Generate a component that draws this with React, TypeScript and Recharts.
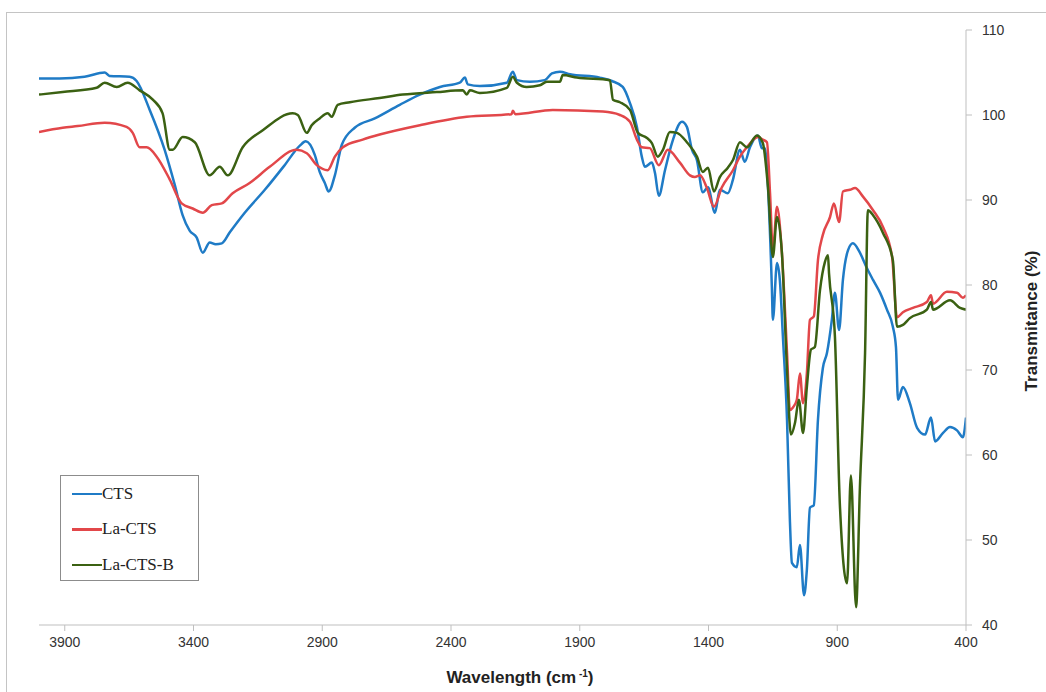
import { LineChart, Line, XAxis, YAxis, Legend } from "recharts";

// wavenumber (cm-1) / transmittance (%)
const CTS_WN = [
  4000, 3920, 3823, 3745, 3726, 3648, 3621, 3570, 3512, 3473, 3442, 3415, 3388, 3364, 3337, 3314,
  3290, 3259, 3201, 3123, 3046, 2987, 2964, 2929, 2910, 2890, 2875, 2851, 2824, 2774, 2696, 2599,
  2521, 2443, 2366, 2346, 2335, 2288, 2183, 2160, 2144, 2094, 2036, 2008, 1977, 1938, 1822, 1775,
  1733, 1705, 1678, 1659, 1647, 1620, 1608, 1593, 1569, 1542, 1503, 1484, 1464, 1445, 1422, 1402,
  1375, 1356, 1325, 1305, 1278, 1259, 1239, 1208, 1193, 1181, 1169, 1154, 1150, 1134, 1123, 1111,
  1095, 1084, 1076, 1057, 1045, 1029, 1018, 1006, 991, 975, 956, 940, 921, 909, 893, 878,
  858, 839, 812, 785, 761, 734, 707, 684, 672, 664, 645, 618, 590, 559, 536, 520,
  489, 462, 435, 412, 400,
];
const CTS_T = [
  104.3, 104.3, 104.5, 105.0, 104.6, 104.5, 104.0, 100.6, 95.9, 91.8, 88.2, 86.4, 85.6, 83.8, 85.0, 84.8,
  84.9, 86.2, 88.5, 91.2, 94.1, 96.4, 96.9, 95.3, 93.3, 92.0, 91.0, 92.9, 96.5, 98.5, 99.6, 101.2,
  102.4, 103.3, 103.8, 104.4, 103.6, 103.4, 103.8, 105.1, 104.1, 103.9, 104.1, 104.9, 105.1, 104.8, 104.4, 104.0,
  103.3, 101.4, 98.6, 95.1, 93.9, 94.4, 93.2, 90.5, 93.5, 96.7, 99.2, 98.6, 95.9, 94.7, 90.9, 91.5,
  88.5, 91.2, 90.8, 92.4, 95.9, 94.5, 96.2, 97.6, 96.1, 96.1, 91.5, 79.8, 75.9, 82.6, 80.6, 73.9,
  64.1, 52.4, 47.3, 46.8, 49.4, 43.5, 46.5, 53.8, 54.1, 64.1, 70.2, 72.0, 75.9, 79.1, 74.7, 80.6,
  84.1, 84.9, 83.8, 82.0, 80.6, 79.1, 77.1, 75.1, 72.7, 66.5, 68.0, 66.1, 63.2, 62.4, 64.4, 61.6,
  62.6, 63.3, 62.9, 62.1, 64.4,
];

const LA_CTS_WN = [
  4000, 3908, 3850, 3745, 3660, 3636, 3609, 3582, 3543, 3492, 3446, 3403, 3364, 3329, 3290, 3248,
  3182, 3104, 3000, 2960, 2921, 2879, 2851, 2820, 2743, 2677, 2521, 2339, 2165, 2160, 2150, 2005,
  1810, 1744, 1705, 1678, 1659, 1628, 1593, 1558, 1511, 1472, 1453, 1433, 1406, 1379, 1348, 1305,
  1278, 1251, 1208, 1189, 1173, 1161, 1150, 1134, 1115, 1095, 1084, 1072, 1057, 1045, 1033, 1018,
  1006, 991, 975, 956, 928, 913, 893, 878, 851, 831, 800, 761, 722, 687, 668, 645,
  606, 552, 536, 528, 474, 435, 412, 400,
];
const LA_CTS_T = [
  98.0, 98.5, 98.7, 99.1, 98.6, 97.9, 96.2, 96.2, 95.1, 92.4, 89.6, 89.0, 88.5, 89.4, 89.6, 90.8,
  92.0, 93.9, 95.9, 95.5, 94.1, 93.5, 95.1, 96.2, 97.1, 97.7, 98.8, 99.8, 100.1, 100.5, 100.1, 100.6,
  100.4, 100.0, 99.2, 97.1, 96.2, 96.1, 94.1, 95.9, 94.4, 92.9, 92.7, 92.9, 91.4, 89.2, 91.5, 93.5,
  95.1, 96.2, 97.4, 97.1, 96.8, 90.8, 84.1, 89.2, 83.8, 72.0, 65.3, 65.6, 66.5, 69.6, 66.1, 69.6,
  75.9, 76.3, 82.9, 85.9, 88.0, 89.6, 87.4, 91.0, 91.2, 91.4, 90.4, 88.8, 86.8, 83.3, 76.2, 76.8,
  77.3, 78.0, 78.8, 77.8, 79.2, 79.1, 78.5, 78.8,
];

const LA_CTS_B_WN = [
  4000, 3908, 3776, 3745, 3698, 3656, 3609, 3558, 3520, 3492, 3481, 3442, 3395, 3337, 3298, 3267,
  3209, 3131, 3015, 2995, 2960, 2941, 2910, 2879, 2863, 2840, 2793, 2677, 2587, 2455, 2354, 2339,
  2327, 2288, 2183, 2160, 2144, 2106, 2055, 2028, 1977, 1966, 1911, 1783, 1771, 1744, 1705, 1674,
  1639, 1620, 1597, 1577, 1550, 1523, 1484, 1445, 1422, 1402, 1379, 1356, 1325, 1305, 1278, 1251,
  1212, 1189, 1169, 1150, 1134, 1115, 1095, 1080, 1064, 1049, 1033, 1018, 1002, 987, 967, 948,
  936, 932, 909, 890, 862, 847, 827, 812, 792, 781, 761, 722, 684, 668, 645, 618,
  552, 536, 528, 462, 423, 400,
];
const LA_CTS_B_T = [
  102.4, 102.7, 103.2, 103.8, 103.3, 103.8, 102.9, 101.8, 100.2, 95.9, 95.9, 97.4, 96.8, 92.9, 93.9, 92.9,
  96.2, 98.2, 100.2, 100.0, 97.9, 98.8, 99.6, 100.2, 99.8, 101.2, 101.5, 102.0, 102.4, 102.7, 102.9, 102.4,
  102.9, 102.6, 103.2, 104.5, 103.8, 103.3, 103.5, 103.9, 103.9, 104.7, 104.4, 104.1, 101.8, 101.5, 100.6, 97.9,
  97.3, 96.7, 95.1, 95.9, 98.0, 97.9, 96.8, 95.1, 93.3, 93.8, 91.0, 92.7, 93.8, 94.7, 96.8, 96.2,
  97.6, 96.7, 91.5, 83.3, 88.0, 83.8, 70.0, 62.4, 63.8, 66.5, 62.6, 68.0, 72.4, 72.7, 79.4, 82.7,
  83.5, 81.4, 73.9, 54.3, 44.9, 57.6, 42.1, 56.2, 72.0, 88.8, 88.2, 86.1, 82.9, 75.1, 75.3, 76.1,
  77.1, 78.0, 77.1, 78.2, 77.3, 77.1,
];

const X_TICKS = [3900, 3400, 2900, 2400, 1900, 1400, 900, 400];
const Y_TICKS = [40, 50, 60, 70, 80, 90, 100, 110];

const toPoints = (wn: number[], t: number[]) => wn.map((w, i) => ({ wn: w, t: t[i] }));

const SERIES = [
  { name: "CTS", color: "#1f7bc6", data: toPoints(CTS_WN, CTS_T) },
  { name: "La-CTS", color: "#e2474a", data: toPoints(LA_CTS_WN, LA_CTS_T) },
  { name: "La-CTS-B", color: "#3b6112", data: toPoints(LA_CTS_B_WN, LA_CTS_B_T) },
];

function LegendBox() {
  return (
    <div
      style={{
        border: "1.5px solid #8c8c8c",
        width: 139,
        height: 106,
        boxSizing: "border-box",
        paddingLeft: 11,
        fontFamily: "'Liberation Serif', 'Times New Roman', serif",
        fontSize: 17,
        color: "#222",
        background: "#fff",
      }}
    >
      {SERIES.map((s) => (
        <div key={s.name} style={{ display: "flex", alignItems: "center", height: 35.5 }}>
          <span style={{ width: 30, height: 2.5, background: s.color, display: "inline-block" }} />
          <span>{s.name}</span>
        </div>
      ))}
    </div>
  );
}

function XTitle() {
  return (
    <text x={520} y={683} textAnchor="middle" fill="#222" fontSize={17} fontWeight="bold"
      fontFamily="'Liberation Sans Narrow', 'Liberation Sans', sans-serif">
      Wavelength (cm<tspan dy={-6} fontSize={10}> -1</tspan><tspan dy={6}>)</tspan>
    </text>
  );
}

function YTitle() {
  return (
    <text x={1037} y={321} textAnchor="middle" fill="#222" fontSize={17} fontWeight="bold"
      fontFamily="'Liberation Sans', sans-serif" transform="rotate(-90 1037 321)">
      Transmitance (%)
    </text>
  );
}

export default function App() {
  return (
    <div style={{ position: "absolute", left: 0, top: 0, width: 1046, height: 692, background: "#fff" }}>
      <div style={{ position: "absolute", left: 6, top: 12, width: 1040, height: 680,
        borderTop: "1px solid #c4c4c4", borderLeft: "1px solid #c4c4c4" }} />
      <LineChart width={1046} height={692} margin={{ top: 30, right: 20, bottom: 27, left: 39 }}
        style={{ position: "absolute", left: 0, top: 0 }}>
        <XAxis dataKey="wn" type="number" domain={[400, 4000]} reversed ticks={X_TICKS}
          allowDataOverflow height={40} stroke="#bfbfbf" tickSize={6} tickMargin={6}
          tick={{ fill: "#333", fontSize: 14, fontFamily: "'Liberation Sans Narrow', 'Liberation Sans', sans-serif" }}
          label={<XTitle />} />
        <YAxis orientation="right" type="number" domain={[40, 110]} ticks={Y_TICKS} width={60}
          allowDataOverflow stroke="#bfbfbf" tickSize={6} tickMargin={10}
          tick={{ fill: "#333", fontSize: 14, fontFamily: "'Liberation Sans', sans-serif" }}
          label={<YTitle />} />
        <Legend layout="vertical" align="center" verticalAlign="middle"
          wrapperStyle={{ left: 60, top: 475, width: 139 }}
          content={() => <LegendBox />} />
        {SERIES.map((s) => (
          <Line key={s.name} data={s.data} dataKey="t" name={s.name} type="monotone"
            stroke={s.color} strokeWidth={2.5} dot={false} activeDot={false}
            isAnimationActive={false} />
        ))}
      </LineChart>
    </div>
  );
}
